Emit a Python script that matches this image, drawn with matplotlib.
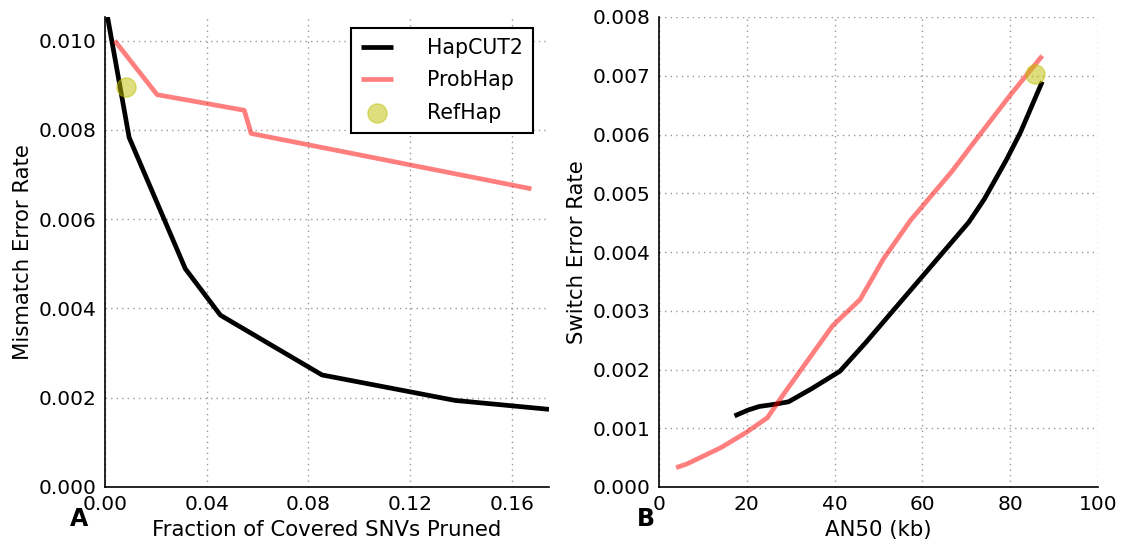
import matplotlib
matplotlib.use("Agg")
import matplotlib.pyplot as plt

# Panel A data
hap_frac = [0.001, 0.0095, 0.0316, 0.0454, 0.0854, 0.1377, 0.1747]
hap_mm = [0.01053, 0.00783, 0.00489, 0.00385, 0.00251, 0.00194, 0.00174]
prob_frac = [0.0038, 0.0205, 0.0548, 0.0575, 0.1678]
prob_mm = [0.0100, 0.00879, 0.00844, 0.00792, 0.00668]
ref_frac = [0.0084]
ref_mm = [0.00897]

# Panel B data
hap_an50 = [17.2, 20.3, 22.8, 26.5, 29.5, 34.7, 41.2, 47.0, 70.6, 74.1, 79.0, 82.3, 87.3]
hap_sw = [0.00121, 0.00131, 0.00137, 0.00141, 0.00145, 0.00167, 0.00197, 0.00245,
          0.00451, 0.00490, 0.00555, 0.00603, 0.00690]
prob_an50 = [3.9, 6.3, 14.1, 19.9, 24.7, 28.1, 34.7, 39.6, 45.8, 51.1, 57.3, 66.7, 72.5, 79.9, 87.3]
prob_sw = [0.00033, 0.00039, 0.00067, 0.00093, 0.00118, 0.00155, 0.00224, 0.00275,
           0.00319, 0.00388, 0.00454, 0.00537, 0.00594, 0.00666, 0.00734]
ref_an50 = [85.6]
ref_sw = [0.00703]

xticksA = [0.00, 0.04, 0.08, 0.12, 0.16]
yticksA = [0.000, 0.002, 0.004, 0.006, 0.008, 0.010]
xticksB = [0, 20, 40, 60, 80, 100]
yticksB = [0.000, 0.001, 0.002, 0.003, 0.004, 0.005, 0.006, 0.007, 0.008]

plt.rcParams['font.family'] = ['DejaVu Sans']
fs = 14.5
lfs = 15.3
LW = 3.4

fig = plt.figure(figsize=(11.25, 5.46), dpi=100)
axA = fig.add_axes([105/1125, 1-487/546, (549-105)/1125, (487-17)/546])
axB = fig.add_axes([659/1125, 1-487/546, (1098-659)/1125, (487-17)/546])

def style(ax):
    for s in ['top', 'right']:
        ax.spines[s].set_visible(False)
    for s in ['left', 'bottom']:
        ax.spines[s].set_linewidth(1.2)
        ax.spines[s].set_color('black')
    ax.tick_params(length=0, labelsize=fs, pad=6)
    ax.grid(True, linestyle=(0, (1, 3)), color='#999999', linewidth=1.0)
    ax.set_axisbelow(True)

axA.plot(hap_frac, hap_mm, color='black', lw=LW, label='HapCUT2', solid_capstyle='butt')
axA.plot(prob_frac, prob_mm, color='red', alpha=0.5, lw=LW, label='ProbHap', solid_capstyle='butt')
axA.scatter(ref_frac, ref_mm, s=190, color='y', alpha=0.5, label='RefHap', zorder=3)
axA.set_xlim(0, 0.1747)
axA.set_ylim(0, 0.01053)
axA.set_xticks(xticksA)
axA.set_xticklabels(['%.2f' % v for v in xticksA])
axA.set_yticks(yticksA)
axA.set_yticklabels(['%.3f' % v for v in yticksA])
axA.set_xlabel('Fraction of Covered SNVs Pruned', fontsize=lfs, labelpad=4)
axA.set_ylabel('Mismatch Error Rate', fontsize=lfs)
style(axA)
leg = axA.legend(loc='upper right', fontsize=14.8, frameon=True, fancybox=False,
                 edgecolor='black', handlelength=1.55, handletextpad=1.65,
                 borderpad=0.5, labelspacing=0.6, scatterpoints=1,
                 borderaxespad=0.0, bbox_to_anchor=(0.964, 0.977))
leg.get_frame().set_linewidth(1.5)
leg.get_frame().set_alpha(1)

axB.plot(hap_an50, hap_sw, color='black', lw=LW, solid_capstyle='butt')
axB.plot(prob_an50, prob_sw, color='red', alpha=0.5, lw=LW, solid_capstyle='butt')
axB.scatter(ref_an50, ref_sw, s=190, color='y', alpha=0.5, zorder=3)
axB.set_xlim(0, 100)
axB.set_ylim(0, 0.008)
axB.set_xticks(xticksB)
axB.set_xticklabels([str(v) for v in xticksB])
axB.set_yticks(yticksB)
axB.set_yticklabels(['%.3f' % v for v in yticksB])
axB.set_xlabel('AN50 (kb)', fontsize=lfs, labelpad=4)
axB.set_ylabel('Switch Error Rate', fontsize=lfs)
style(axB)

fig.text(70/1125, 1-519/546, 'A', fontsize=17, fontweight='bold', va='center')
fig.text(637/1125, 1-519/546, 'B', fontsize=17, fontweight='bold', va='center')

fig.savefig('out.png', dpi=100)
